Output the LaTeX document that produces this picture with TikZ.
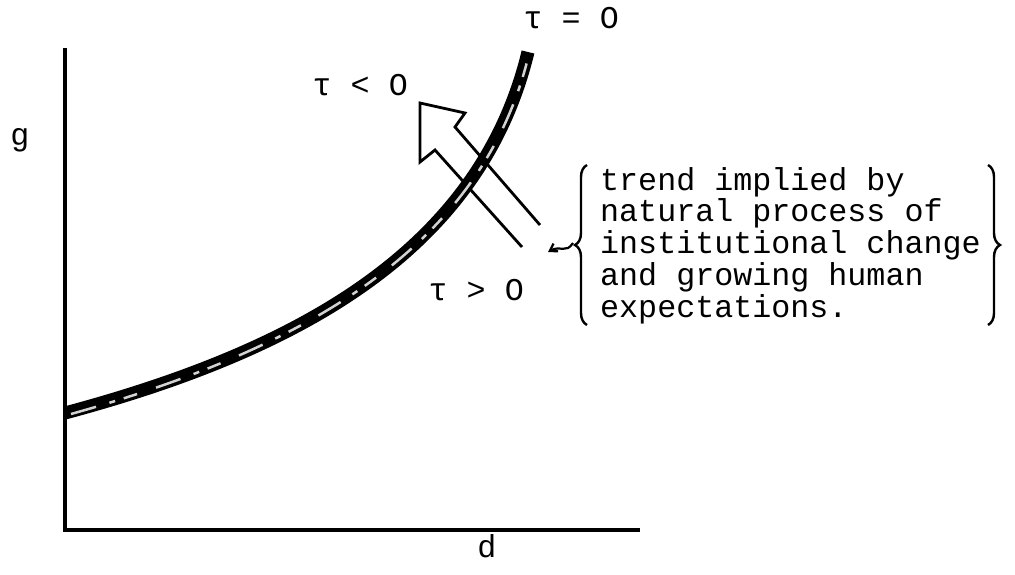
\documentclass[tikz,border=0pt]{standalone}
\usepackage{fontspec}
\newfontfamily\typew{Liberation Mono}
\usetikzlibrary{arrows.meta,decorations.pathreplacing}

\begin{document}
\begin{tikzpicture}[x=1pt,y=-1pt,
  lbl/.style={font=\typew\fontsize{31.7}{31.7}\selectfont,inner sep=0pt,anchor=base west},
  ax/.style={line width=3.5pt},
  crv/.style={line width=13pt},
  speck/.style={line width=2.5pt,gray!35,dash pattern=on 26pt off 14pt on 6pt off 9pt on 14pt off 20pt},
  hol/.style={line width=2.8pt,line join=miter},
  brc/.style={decorate,decoration={brace,amplitude=12pt},line width=2.4pt},
  curl/.style={line width=2.2pt,-{Straight Barb[length=7pt,width=9pt]}}]
\useasboundingbox (0,0) rectangle (1015,574);
% axes
\coordinate (ytop) at (65,48);
\coordinate (orig) at (65,530);
\coordinate (xend) at (640,530);
\draw[ax] (ytop) -- (orig) -- (xend);
\node[lbl,anchor=base] (g) at (20,145) {g};
\node[lbl,anchor=base] (d) at (487,557) {d};
% hollow arrow under the curve
\draw[hol] (522,247) -- (435,150) -- (420,162) -- (420,103) -- (465,113) -- (455,127) -- (540,225);
% the curve
\coordinate (cbot) at (65,413);
\coordinate (ctop) at (528,52);
\draw[crv] (cbot) .. controls (300,350) and (480,250) .. (ctop);
\draw[speck] ([xshift=6pt,yshift=-1pt]cbot) .. controls (300,350) and (480,250) .. ([yshift=-6pt]ctop);
\node[lbl] (teq) at (523.5,28) {τ = O};
\node[lbl] (tlt) at (312.5,95) {τ < O};
\node[lbl] (tgt) at (428.5,300) {τ > O};
% note with braces
\node[lbl,align=left] (note) at (600,317) {trend implied by\\natural process of\\institutional change\\and growing human\\expectations.};
\draw[brc] (587,325) -- (587,165);
\draw[brc] (988,165) -- (988,325);
\coordinate (curlA) at (573,243);
\coordinate (curlB) at (548,252);
\draw[curl] (curlA) .. controls (566,254) and (560,245) .. (curlB);
\end{tikzpicture}
\end{document}
